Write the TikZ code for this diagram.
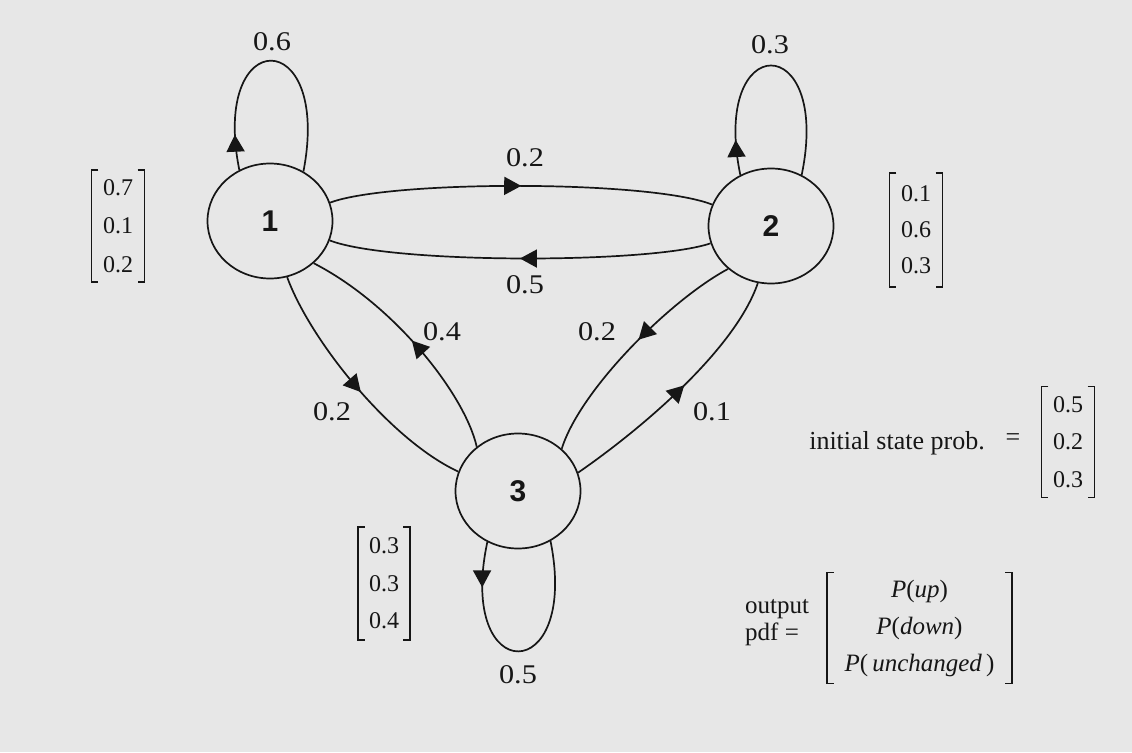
\documentclass[tikz,border=0pt]{standalone}
\usepackage{fontspec}
\setmainfont{Liberation Serif}
\newfontfamily\numfont{Liberation Sans}
\newfontfamily\lblfont[FakeStretch=1.12]{Liberation Serif}
\usetikzlibrary{arrows.meta,decorations.markings,shapes.geometric}
\definecolor{bgc}{RGB}{231,231,231}
\definecolor{ink}{RGB}{22,22,22}
\begin{document}
\begin{tikzpicture}[x=1pt,y=1pt,
  state/.style={draw=ink, line width=1.7pt, ellipse, minimum width=125pt, minimum height=115pt, inner sep=0pt,
    font=\numfont\bfseries\fontsize{30}{34}\selectfont, text=ink},
  edge/.style={draw=ink, line width=1.7pt},
  midarrow/.style={postaction={decorate}, decoration={markings,
    mark=at position #1 with {\arrow{Triangle[length=17pt,width=18pt]}}}},
  lbl/.style={font=\lblfont\fontsize{27}{32}\selectfont, text=ink, inner sep=0pt},
  vec/.style={font=\fontsize{24}{#1}\selectfont, text=ink, align=center, inner sep=0pt},
  brk/.style={draw=ink, line width=1.5pt},
]
\fill[bgc] (0,0) rectangle (1132,-752);
\useasboundingbox (0,0) rectangle (1132,-752);

% states
\node[state] (n1) at (270,-221) {1};
\node[state] (n2) at (771,-226) {2};
\node[state] (n3) at (518,-491) {3};

% self loops
\draw[edge, midarrow=0.14] (n1.121) .. controls (210,-24) and (332,-24) .. (n1.56);
\draw[edge, midarrow=0.14] (n2.121) .. controls (710,-29) and (832,-29) .. (n2.59);
\draw[edge, midarrow=0.18] (n3.239) .. controls (456,-688) and (580,-688) .. (n3.303);

% 1 <-> 2
\draw[edge, midarrow=0.5] (n1.17) .. controls (390,-180) and (650,-180) .. (n2.160);
\draw[edge, midarrow=0.5] (n2.196) .. controls (650,-264) and (390,-264) .. (n1.342);

% 1 <-> 3
\draw[edge, midarrow=0.52] (n1.287) .. controls (310,-340) and (390,-440) .. (n3.162);
\draw[edge, midarrow=0.5] (n3.133) .. controls (465,-395) and (395,-305) .. (n1.316);

% 2 <-> 3
\draw[edge, midarrow=0.46] (n2.225) .. controls (670,-300) and (580,-390) .. (n3.44);
\draw[edge, midarrow=0.52] (n3.17) .. controls (640,-430) and (735,-350) .. (n2.257);

% labels
\node[lbl] (l11) at (272,-42) {0.6};
\node[lbl] (l22) at (770,-45) {0.3};
\node[lbl] (l12) at (525,-158) {0.2};
\node[lbl] (l21) at (525,-285) {0.5};
\node[lbl] (l13) at (332,-412) {0.2};
\node[lbl] (l31) at (442,-332) {0.4};
\node[lbl] (l23) at (597,-332) {0.2};
\node[lbl] (l32) at (712,-412) {0.1};
\node[lbl] (l33) at (518,-675) {0.5};

% output vectors
\node[vec=38.5, minimum width=53pt, minimum height=112pt] (v1) at (118,-226) {0.7\\0.1\\0.2};
\node[vec=36, minimum width=53pt, minimum height=114pt] (v2) at (916,-230) {0.1\\0.6\\0.3};
\node[vec=37.5, minimum width=52pt, minimum height=113pt] (v3) at (384,-583.5) {0.3\\0.3\\0.4};

% initial state
\node[lbl, font=\fontsize{26}{30}\selectfont] (init) at (897,-443) {initial state prob.};
\node[lbl, font=\fontsize{26}{30}\selectfont] (eq) at (1013,-440) {=};
\node[vec=37.5, minimum width=53pt, minimum height=111pt] (v4) at (1068,-442) {0.5\\0.2\\0.3};

% output pdf
\node[lbl, anchor=west, align=left, font=\fontsize{25}{27}\selectfont] (opdf) at (745,-623) {output\\pdf =};
\node[vec=37, font=\fontsize{25}{37}\selectfont, minimum width=185pt, minimum height=111pt] (v5) at (919.5,-628)
  {\textit{P}(\textit{up})\\\textit{P}(\textit{down})\\\textit{P}(\,\textit{unchanged}\,)};

\foreach \v in {v1,v2,v3,v4,v5} {
  \draw[brk] ([xshift=7pt]\v.north west) -- (\v.north west) -- (\v.south west) -- ([xshift=7pt]\v.south west);
  \draw[brk] ([xshift=-7pt]\v.north east) -- (\v.north east) -- (\v.south east) -- ([xshift=-7pt]\v.south east);
}
\end{tikzpicture}
\end{document}
